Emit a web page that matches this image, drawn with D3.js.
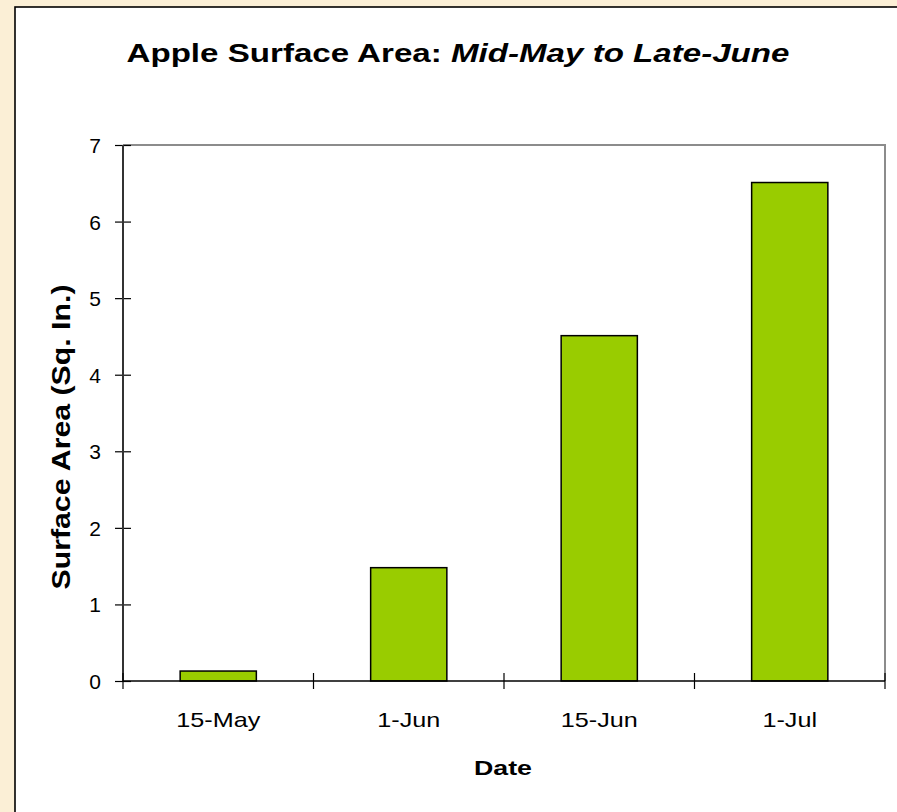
<!DOCTYPE html>
<meta charset='utf-8'>
<head>
  <style>
    body { margin: 0; background: #fbefd6; }
    svg { display: block; font-family: 'Liberation Sans', Arial, sans-serif; }
    .axis text { font-size: 21px; fill: #000; }
    .axis path { display: none; }
    .axis line { stroke: #000; stroke-width: 1.2; }
  </style>
</head>
<body>
<script src='https://cdn.jsdelivr.net/npm/d3@7'></script>
<script>

var dates = ['15-May', '1-Jun', '15-Jun', '1-Jul'];
var area = [0.13, 1.48, 4.51, 6.51];
var yTicks = [0, 1, 2, 3, 4, 5, 6, 7];

var W = 897, H = 812;
var margin = {top: 145, right: 12, bottom: 131, left: 123},
    width = W - margin.left - margin.right,
    height = H - margin.top - margin.bottom;

var data = dates.map((d, i) => ({date: d, value: area[i]}));

var x = d3.scaleBand().domain(dates).range([0, width]).paddingInner(0.6).paddingOuter(0.3);
var xb = d3.scaleBand().domain(dates).range([0, width]);
var y = d3.scaleLinear().domain([0, 7]).range([height, 0]);

var svg = d3.select('body').append('svg')
    .attr('width', W)
    .attr('height', H);

svg.append('rect').attr('width', W).attr('height', H).attr('fill', '#fbefd6');

// chart box
svg.append('rect')
    .attr('x', 15).attr('y', 7)
    .attr('width', W + 10).attr('height', H + 10)
    .attr('fill', '#fff')
    .attr('stroke', '#000')
    .attr('stroke-width', 1.6);

svg.append('text')
    .attr('x', 458).attr('y', 62)
    .attr('text-anchor', 'middle')
    .attr('textLength', 663)
    .attr('lengthAdjust', 'spacingAndGlyphs')
    .style('font-size', '26px')
    .style('font-weight', 'bold')
    .call(t => {
      t.append('tspan').text('Apple Surface Area: ');
      t.append('tspan').style('font-style', 'italic').text('Mid-May to Late-June');
    });

var g = svg.append('g')
    .attr('transform', 'translate(' + margin.left + ',' + margin.top + ')');

// plot frame (top and right)
g.append('path')
    .attr('d', 'M0,0H' + width + 'V' + height)
    .attr('fill', 'none')
    .attr('stroke', '#8c8c8c')
    .attr('stroke-width', 2);

g.selectAll('.bar')
    .data(data)
  .enter().append('rect')
    .attr('class', 'bar')
    .attr('x', d => x(d.date))
    .attr('y', d => y(d.value))
    .attr('width', x.bandwidth())
    .attr('height', d => height - y(d.value))
    .attr('fill', '#99cc00')
    .attr('stroke', '#000')
    .attr('stroke-width', 1.5);

// y axis
var yAxis = g.append('g').attr('class', 'axis')
    .call(d3.axisLeft(y).tickValues(yTicks).tickSize(8).tickPadding(14).tickFormat(d3.format('d')));
yAxis.selectAll('.tick line').attr('x1', 8);
yAxis.selectAll('.tick text').attr('dy', '0.36em');
g.append('line')
    .attr('x1', 0).attr('x2', 0).attr('y1', 0).attr('y2', height)
    .attr('stroke', '#333').attr('stroke-width', 2);

// x axis
var xAxis = g.append('g').attr('class', 'axis')
    .attr('transform', 'translate(0,' + height + ')')
    .call(d3.axisBottom(xb).tickSize(0).tickPadding(31));
xAxis.selectAll('.tick line').remove();
xAxis.selectAll('.tick text')
    .each(function() {
      var len = this.getComputedTextLength();
      d3.select(this).attr('textLength', len * 1.2).attr('lengthAdjust', 'spacingAndGlyphs');
    });
xAxis.selectAll('.sep')
    .data(d3.range(dates.length + 1))
  .enter().append('line')
    .attr('x1', i => i * xb.step()).attr('x2', i => i * xb.step())
    .attr('y1', -8).attr('y2', 8)
    .attr('stroke', '#000').attr('stroke-width', 1.2);
g.append('line')
    .attr('x1', 0).attr('x2', width).attr('y1', height).attr('y2', height)
    .attr('stroke', '#000').attr('stroke-width', 1.5);

svg.append('text')
    .attr('transform', 'translate(70,437) rotate(-90)')
    .attr('text-anchor', 'middle')
    .attr('textLength', 305)
    .attr('lengthAdjust', 'spacingAndGlyphs')
    .style('font-size', '26px')
    .style('font-weight', 'bold')
    .text('Surface Area (Sq. In.)');

svg.append('text')
    .attr('x', 503).attr('y', 775)
    .attr('text-anchor', 'middle')
    .attr('textLength', 58)
    .attr('lengthAdjust', 'spacingAndGlyphs')
    .style('font-size', '21px')
    .style('font-weight', 'bold')
    .text('Date');

</script>
</body>
